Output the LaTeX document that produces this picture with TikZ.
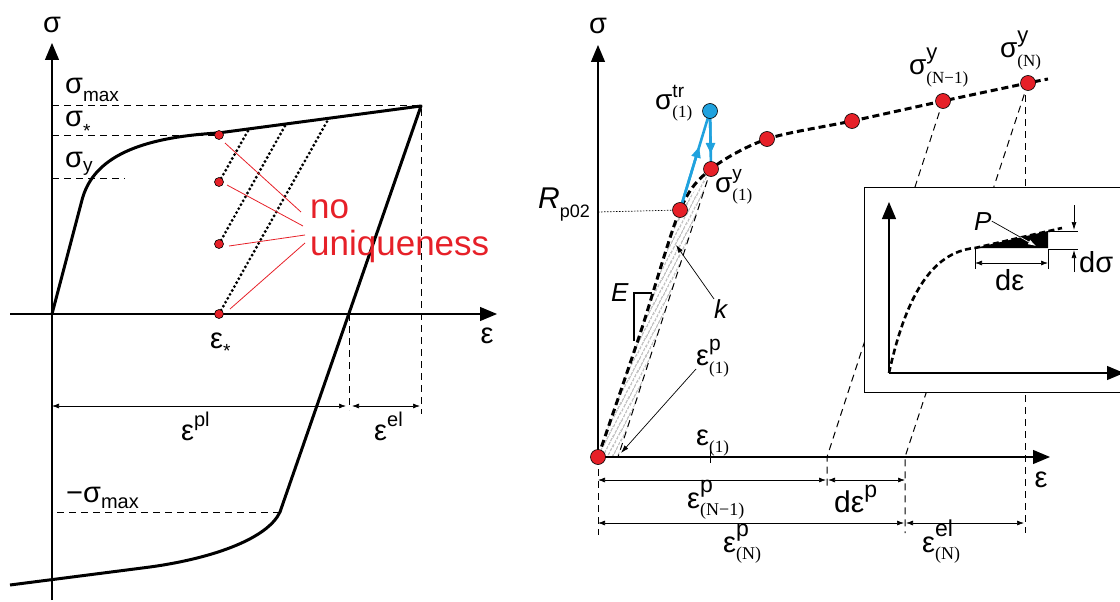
\documentclass[tikz,border=0pt]{standalone}
\usepackage{fontspec}
\setmainfont{Liberation Sans}
\newfontfamily\tmfont{Liberation Serif}
\usetikzlibrary{arrows.meta,patterns.meta,calc}
\definecolor{ptred}{RGB}{230,32,40}
\definecolor{ptblue}{RGB}{32,162,222}
\newcommand{\fs}[1]{\fontsize{#1}{#1}\selectfont}
\newcommand{\up}[3]{\rlap{\raisebox{#1pt}{\fs{#2}#3}}}
\newcommand{\dn}[3]{\raisebox{-#1pt}{\fs{#2}#3}}
\newcommand{\dnt}[3]{\raisebox{-#1pt}{\tmfont\fs{#2}#3}}
\tikzset{
  axisline/.style={line width=1.2pt,-{Triangle[length=17pt,width=14pt]}},
  curveline/.style={line width=3pt,line join=round},
  thindash/.style={line width=1pt,dash pattern=on 7pt off 5pt},
  dimline/.style={line width=0.7pt,{Latex[length=7pt,width=5pt]}-{Latex[length=7pt,width=5pt]}},
  thinarrow/.style={line width=0.7pt,-{Latex[length=8pt,width=5pt]}},
  dotline/.style={line width=3.2pt,dash pattern=on 0pt off 4.5pt,line cap=round},
  redline/.style={ptred,line width=0.8pt},
  blueline/.style={ptblue,line width=2.6pt},
  lbl/.style={inner sep=0pt,font=\fs{29}},
  rdotS/.style={fill=ptred,draw=black,line width=0.6pt},
}
\begin{document}
\begin{tikzpicture}[x=1pt,y=-1pt]
\clip (0,0) rectangle (1120,602);
\coordinate (O1) at (52,314);
\coordinate (Pmax) at (421,106);
\coordinate (Pmin) at (280,512);
\draw[thindash] (52,106) -- (Pmax) -- (421,414);
\draw[thindash] (52,135) -- (215,135);
\draw[thindash] (52,178) -- (125,178);
\draw[thindash] (57,512) -- (Pmin);
\draw[thindash] (349,314) -- (349,410);
\draw[axisline] (52,600) -- (52,43);
\draw[axisline] (10,314) -- (497,314);
\node[lbl] (sig1) at (52,25) {σ};
\node[lbl] (eps1) at (487,336) {ε};
\draw[curveline] (O1) -- (82,200) .. controls (92,162) and (130,138) .. (218,133) -- (Pmax) -- (Pmin)
  .. controls (268,538) and (215,558) .. (150,567) -- (10,585);
\draw[dimline] (52,406) -- (346,406);
\draw[dimline] (352,406) -- (420,406);
\foreach \y [count=\i] in {135,182,244,314} \coordinate (a\i) at (219,\y);
\draw[dotline] (a2) -- (249,129);
\draw[dotline] (a3) -- (286,124);
\draw[dotline] (a4) -- (329,118);
\foreach \i in {1,2,3,4} \filldraw[rdotS] (a\i) circle (4.5);
\node[lbl,font=\fs{35},text=ptred,anchor=base west] (no) at (310,218) {no};
\node[lbl,font=\fs{35},text=ptred,anchor=base west] (uniq) at (310,255) {uniqueness};
\draw[redline] (a1) ++(6,8) -- (301,212);
\draw[redline] (a2) ++(8,3) -- (303,226);
\draw[redline] (a3) ++(10,2) -- (305,235);
\draw[redline] (a4) ++(11,-5) -- (305,243);
\node[lbl,anchor=base west] (smax) at (65,93) {σ\dn{9}{19}{max}};
\node[lbl,anchor=base west] (sstar) at (65,127) {σ\dn{10}{19}{*}};
\node[lbl,anchor=base west] (sy) at (65,167) {σ\dn{4}{19}{y}};
\node[lbl,anchor=base west] (smin) at (66,502) {−σ\dn{6}{20}{max}};
\node[lbl,anchor=base west] (estar) at (210,348) {ε\dn{9}{19}{*}};
\node[lbl,anchor=base west] (epl) at (181,440) {ε\up{14}{20}{pl}};
\node[lbl,anchor=base west] (eel) at (374,440) {ε\up{14}{20}{el}};
\coordinate (O2) at (598,457);
\coordinate (R) at (680,210);
\coordinate (y1) at (711,169);
\coordinate (tr) at (710,111);
\coordinate (yN1) at (943,101);
\coordinate (yN) at (1028,83);
\fill[pattern={Lines[angle=62,distance=4pt,line width=0.7pt]},pattern color=black!65] (O2) -- (640,334) -- (R) -- (y1) -- (618,457) -- cycle;
\draw[thindash] (y1) -- (618,457);
\draw[thindash] (yN1) -- (827,457) -- (827,490);
\draw[thindash] (yN) -- (905,457) -- (905,533);
\draw[thindash] (1025,83) -- (1025,533);
\draw[thindash] (O2) -- (598,535);
\draw[line width=0.7pt,dash pattern=on 1.5pt off 1.5pt] (598,212) -- (R);
\draw[axisline] (O2) -- (598,45);
\draw[axisline] (O2) -- (1050,457);
\node[lbl] (sig2) at (598,26) {σ};
\node[lbl] (eps2) at (1041,480) {ε};
\draw[curveline,dash pattern=on 7pt off 4pt] plot[smooth,tension=0.5] coordinates {(598,457) (640,334) (680,210) (711,169) (767,139) (852,121) (943,101) (1028,83) (1048,79)};
\draw[line width=2.4pt] (652,293) -- (634,293) -- (634,341);
\draw[line width=1pt] (710,451) -- (710,463);
\draw[dimline] (598,480) -- (826,480);
\draw[dimline] (828,480) -- (905,480);
\draw[dimline] (598,523) -- (904,523);
\draw[dimline] (906,523) -- (1024,523);
\draw[line width=1pt,fill=white] (864,187) rectangle (1130,392);
\draw[axisline] (889,373) -- (889,202);
\draw[axisline] (889,373) -- (1124,373);
\fill (975,248) -- (1048,248) -- (1048,231) -- cycle;
\draw[curveline,line width=2.6pt,dash pattern=on 6pt off 3.5pt] (889,373) .. controls (905,300) and (930,252) .. (975,248) -- (1062,228);
\draw[line width=0.7pt] (1048,231) -- (1078,231);
\draw[line width=0.7pt] (1048,249) -- (1078,249);
\draw[line width=0.7pt] (975,249) -- (975,269);
\draw[line width=0.7pt] (1048,249) -- (1048,269);
\draw[thinarrow] (1074,205) -- (1074,230);
\draw[thinarrow] (1074,272) -- (1074,250);
\draw[dimline] (975,263) -- (1048,263);
\node[lbl,font=\fs{26}\itshape,anchor=base west] (P) at (974,230) {P};
\node[lbl,anchor=base west] (de) at (995,290) {dε};
\node[lbl,anchor=base west] (ds) at (1079,272) {dσ};
\draw[thinarrow] (P.east) -- (1036,246);
\begin{scope}
\clip (975,248) -- (1048,248) -- (1048,231) -- cycle;
\draw[thinarrow,white] (P.east) -- (1036,246);
\end{scope}
\draw[blueline] (R) -- (tr) -- (y1);
\draw[blueline,-{Triangle[length=11pt,width=9pt]}] (R) -- ($(R)!0.64!(tr)$);
\draw[blueline,-{Triangle[length=11pt,width=9pt]}] (tr) -- ($(tr)!0.74!(y1)$);
\foreach \p in {O2,R,y1,yN1,yN} \filldraw[rdotS] (\p) circle (7.5);
\filldraw[rdotS] (767,139) circle (7.5);
\filldraw[rdotS] (852,121) circle (7.5);
\filldraw[fill=ptblue,draw=black,line width=0.6pt] (tr) circle (7.5);
\node[lbl,font=\fs{26}\itshape,anchor=base west] (E) at (611,301) {E};
\node[lbl,font=\fs{26}\itshape,anchor=base west] (k) at (714,318) {k};
\draw[thinarrow] (k.north west) -- (676,245);
\coordinate (ep1s) at (696,369);
\draw[thinarrow] (ep1s) -- (621,453);
\node[lbl,font=\fs{28},anchor=base west] (str) at (655,110) {σ\up{13}{19}{tr}\dnt{8}{17}{(1)}};
\node[lbl,font=\fs{28},anchor=base west] (sy1) at (715,192) {σ\up{13}{19}{y}\dnt{8}{17}{(1)}};
\node[lbl,font=\fs{28},anchor=base west] (syN1) at (909,75) {σ\up{16}{22}{y}\dnt{9}{17}{(N−1)}};
\node[lbl,font=\fs{28},anchor=base west] (syN) at (1000,58) {σ\up{15}{22}{y}\dnt{9}{17}{(N)}};
\node[lbl,font=\fs{30},anchor=base west] (Rp) at (538,208) {\textit{R}\dn{9}{18}{p02}};
\node[lbl,anchor=base west] (ep1) at (696,365) {ε\up{15}{21}{p}\dnt{8}{17}{(1)}};
\node[lbl,anchor=base west] (e1) at (696,445) {ε\dnt{7}{17}{(1)}};
\node[lbl,anchor=base west] (epN1) at (687,508) {ε\up{16}{23}{p}\dnt{7}{18}{(N−1)}};
\node[lbl,font=\fs{30},anchor=base west] (dep) at (834,512) {dε\up{15}{23}{p}};
\node[lbl,anchor=base west] (epN) at (723,552) {ε\up{16}{23}{p}\dnt{7}{18}{(N)}};
\node[lbl,anchor=base west] (eelN) at (922,552) {ε\up{16}{23}{el}\dnt{7}{18}{(N)}};
\end{tikzpicture}
\end{document}
